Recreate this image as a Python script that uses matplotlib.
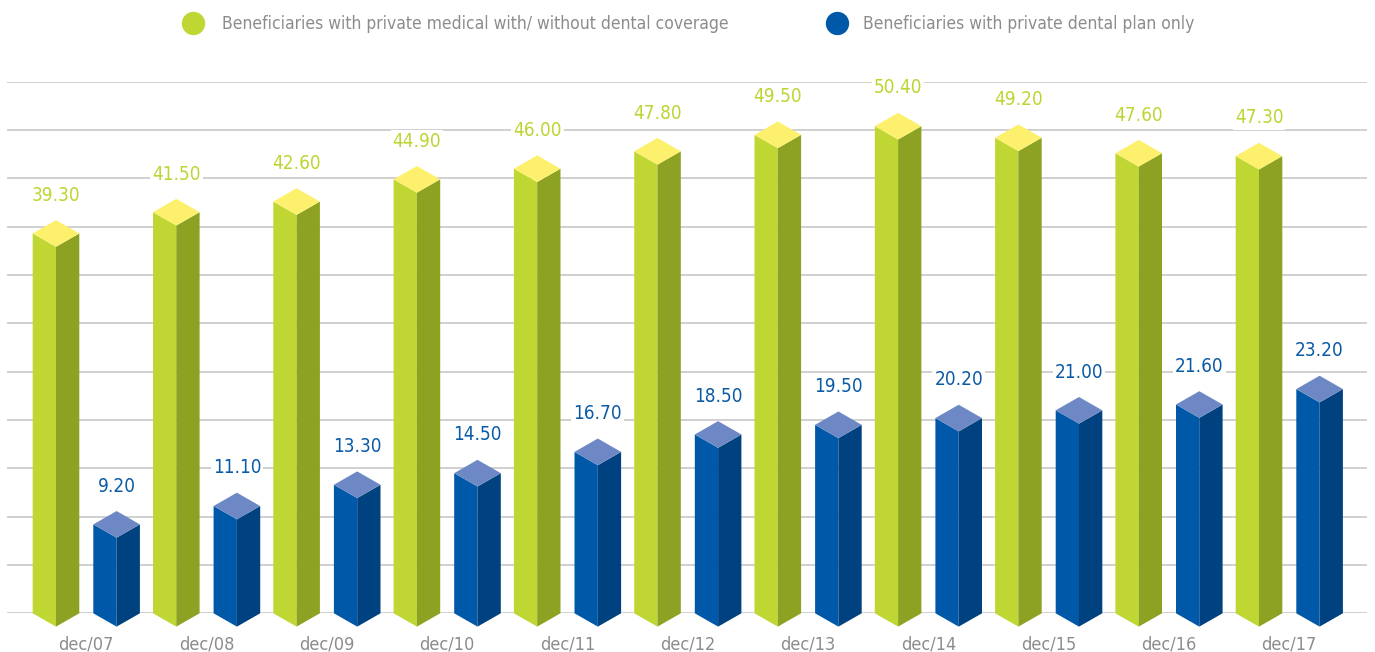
# Beneficiaries of private medical and dental plans, drawn as faceted columns

import matplotlib.pyplot as plt
from matplotlib.lines import Line2D

plt.rcParams['font.family'] = ['Liberation Sans Narrow', 'DejaVu Sans']
plt.rcParams['font.stretch'] = 'condensed'

periods = ["dec/07", "dec/08", "dec/09", "dec/10", "dec/11", "dec/12",
           "dec/13", "dec/14", "dec/15", "dec/16", "dec/17"]
medical = [39.30, 41.50, 42.60, 44.90, 46.00, 47.80, 49.50, 50.40, 49.20, 47.60, 47.30]
dental = [9.20, 11.10, 13.30, 14.50, 16.70, 18.50, 19.50, 20.20, 21.00, 21.60, 23.20]

medical_label = "Beneficiaries with private medical with/ without dental coverage"
dental_label = "Beneficiaries with private dental plan only"

# face colours: front-left, side, top
green = ("#c0d632", "#8da223", "#fdf06c")
blue = ("#0059a8", "#00427f", "#6d88c4")
grey = "#8c8c8c"

W, H = 1375, 652
fig = plt.figure(figsize=(W / 100, H / 100), dpi=100)
ax = fig.add_axes([7 / W, (H - 613.3) / H, 1360 / W, 531.6 / H])

step = 120.3
ax.set_xlim(-79.3 / step, (1367 - 86.3) / step)
ax.set_ylim(0, 55)
ax.set_yticks(range(0, 56, 5))
ax.set_xticks([])
ax.tick_params(left=False, labelleft=False)
ax.grid(axis="y", color="#cdcdcd", linewidth=1.3)
ax.set_axisbelow(True)
for s in ax.spines.values():
    s.set_visible(False)

half = 23.3 / step       # half width of a column
dip = 1.38               # vertical half-diagonal of the top diamond
offset = 30.3 / step


def column(c, v, cols):
    w = half
    left = [(c - w, 0), (c, -dip), (c, v - dip), (c - w, v)]
    right = [(c, -dip), (c + w, 0), (c + w, v), (c, v - dip)]
    top = [(c - w, v), (c, v - dip), (c + w, v), (c, v + dip)]
    for pts, fc in zip((left, right, top), cols):
        xs, ys = zip(*pts)
        ax.fill(xs, ys, facecolor=fc, edgecolor="none", clip_on=False, zorder=3)


def value_label(c, v, color):
    ax.text(c, v + dip + 2.0, f"{v:.2f}", ha="center", va="baseline",
            fontsize=13.6, color=color, zorder=4,
            bbox=dict(facecolor="white", edgecolor="none", pad=1.5))


for i, (m, d) in enumerate(zip(medical, dental)):
    column(i - offset, m, green)
    column(i + offset, d, blue)
    value_label(i - offset, m, "#bed431")
    value_label(i + offset, d, "#0a5aa6")
    ax.text(i, -3.7, periods[i], ha="center", va="baseline", fontsize=13,
            color=grey, clip_on=False)

# legend across the top
for cx, col, tx, label in [(193.3, green[0], 221.7, medical_label),
                           (836.7, blue[0], 863.3, dental_label)]:
    fig.add_artist(Line2D([cx / W], [1 - 22.7 / H], marker="o", markersize=16.8,
                          markerfacecolor=col, markeredgecolor="none",
                          linestyle="none", transform=fig.transFigure))
    fig.text(tx / W, 1 - 29.3 / H, label, ha="left", va="baseline",
             fontsize=12.5, color=grey)

fig.savefig("out.png", dpi=100)
